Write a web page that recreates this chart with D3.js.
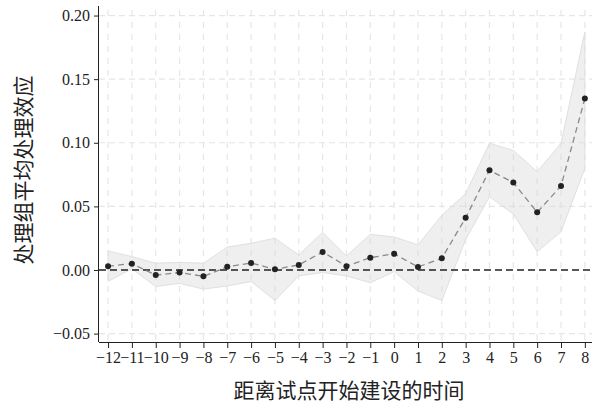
<!DOCTYPE html>
<html><head><meta charset="utf-8">
<script src="https://cdn.jsdelivr.net/npm/d3@7/dist/d3.min.js"></script>
<style>body{margin:0;background:#fff}svg{display:block}
.ser{font-family:"Liberation Serif","Times New Roman","Noto Sans CJK SC",serif}</style>
</head><body>
<svg id="c" width="595" height="408"></svg>
<script>
const periods = [-12,-11,-10,-9,-8,-7,-6,-5,-4,-3,-2,-1,0,1,2,3,4,5,6,7,8];
const estimate = [0.003,0.005,-0.004,-0.002,-0.005,0.0026,0.0055,0.0005,0.004,0.0142,0.003,0.0097,0.0127,0.0024,0.0092,0.041,0.0784,0.0687,0.0453,0.066,0.1347];
const upper = [0.015,0.0105,0.0053,0.006,0.0053,0.018,0.021,0.025,0.0118,0.0296,0.011,0.028,0.026,0.0197,0.043,0.060,0.0996,0.094,0.0773,0.0996,0.187];
const lower = [-0.009,0.001,-0.013,-0.0105,-0.015,-0.0126,-0.009,-0.024,-0.0047,-0.002,-0.0047,-0.010,-0.0013,-0.0165,-0.024,0.024,0.0576,0.044,0.0144,0.030,0.080];
const yTicks = [-0.05,0,0.05,0.10,0.15,0.20];
const xLabel = "距离试点开始建设的时间";
const yLabel = "处理组平均处理效应";

const svg = d3.select("#c");
const L = 99, R = 592, T = 6, B = 342;
const x = d3.scaleLinear().domain([-12.38, 8.3]).range([L, R]);
const y = d3.scaleLinear().domain([-0.0566, 0.2075]).range([B, T]);

// grid
const g = svg.append("g");
g.selectAll(".vg").data(periods).join("line")
  .attr("x1", d => x(d)).attr("x2", d => x(d)).attr("y1", T+4).attr("y2", B)
  .attr("stroke", "#e6e6e6").attr("stroke-width", 1.2).attr("stroke-dasharray", "6,6");
g.selectAll(".hg").data(yTicks.filter(d => d !== 0)).join("line")
  .attr("x1", L).attr("x2", R).attr("y1", d => y(d)).attr("y2", d => y(d))
  .attr("stroke", "#e6e6e6").attr("stroke-width", 1.2).attr("stroke-dasharray", "6,4");

// band
const idx = d3.range(periods.length);
svg.append("path").datum(idx)
  .attr("d", d3.area().x(i => x(periods[i])).y0(i => y(lower[i])).y1(i => y(upper[i])))
  .attr("fill", "#d8d8d8").attr("fill-opacity", 0.4).attr("stroke", "#e0e0e0").attr("stroke-width", 1);

// zero line
svg.append("line").attr("x1", L).attr("x2", R).attr("y1", y(0)).attr("y2", y(0))
  .attr("stroke", "#222").attr("stroke-width", 1.6).attr("stroke-dasharray", "7,4");

// estimate line
svg.append("path").datum(idx)
  .attr("d", d3.line().x(i => x(periods[i])).y(i => y(estimate[i])))
  .attr("fill", "none").attr("stroke", "#8a8a8a").attr("stroke-width", 1.3).attr("stroke-dasharray", "6,4");
svg.selectAll(".pt").data(idx).join("circle")
  .attr("cx", i => x(periods[i])).attr("cy", i => y(estimate[i])).attr("r", 3)
  .attr("fill", "#222");

// axes
const fmtX = d => d < 0 ? "\u2212" + Math.abs(d) : String(d);
const fmtY = d => (d < 0 ? "\u2212" : "") + Math.abs(d).toFixed(2);
const ax = svg.append("g").attr("transform", `translate(0,${B})`)
  .call(d3.axisBottom(x).tickValues(periods).tickFormat(fmtX).tickSizeOuter(0).tickSize(6).tickPadding(4));
ax.attr("font-family", null).attr("font-size", null).attr("class", "ser");
ax.select(".domain").attr("d", `M${L},0.5H${R}`).attr("stroke", "#222");
ax.selectAll("text").style("font-size", "16px").attr("fill", "#222");
ax.selectAll(".tick line").attr("stroke", "#222");
const ay = svg.append("g").attr("transform", `translate(${L},0)`)
  .call(d3.axisLeft(y).tickValues(yTicks).tickFormat(fmtY).tickSizeOuter(0).tickSize(5).tickPadding(4));
ay.attr("font-family", null).attr("font-size", null).attr("class", "ser");
ay.select(".domain").attr("d", `M-0.5,${T}V${B}`).attr("stroke", "#222");
ay.selectAll("text").style("font-size", "16px").attr("fill", "#222");
ay.selectAll(".tick line").attr("stroke", "#222");

svg.append("text").attr("class", "ser").attr("x", 349).attr("y", 398).attr("text-anchor", "middle")
  .style("font-size", "21px").attr("fill", "#222").text(xLabel);
svg.append("text").attr("class", "ser").attr("transform", "translate(31,170) rotate(-90)").attr("text-anchor", "middle")
  .style("font-size", "21px").attr("fill", "#222").text(yLabel);
</script>
</body></html>
